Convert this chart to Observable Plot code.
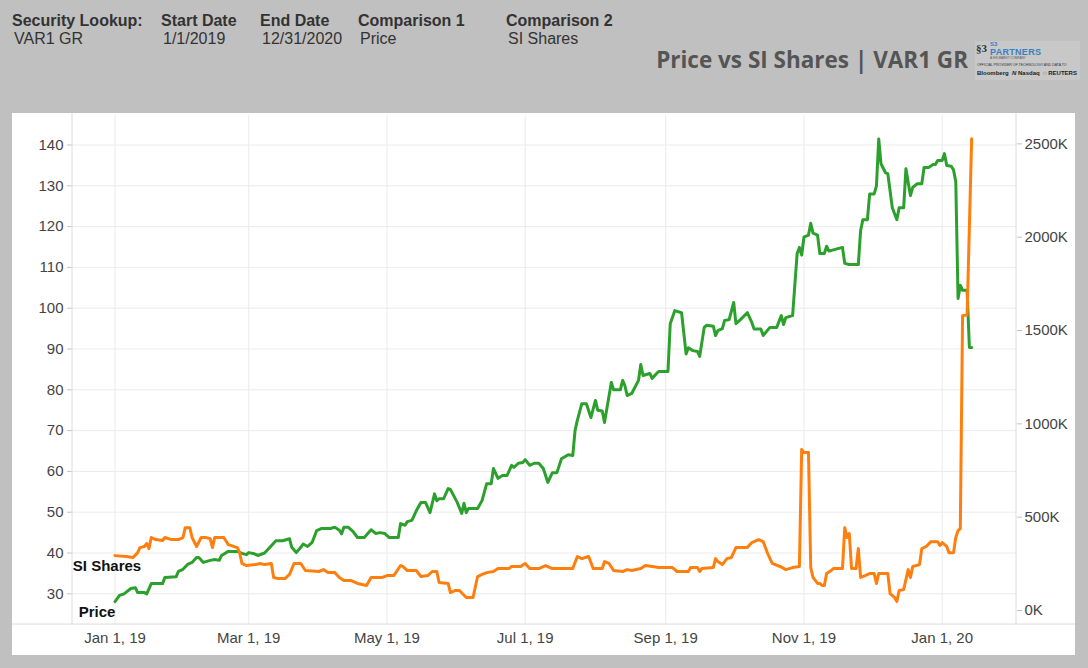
<!DOCTYPE html>
<html>
<head>
<meta charset="utf-8">
<script src="https://cdn.jsdelivr.net/npm/d3@7"></script>
<script src="https://cdn.jsdelivr.net/npm/@observablehq/plot@0.6"></script>
<style>
  html, body { margin: 0; padding: 0; }
  body { width: 1088px; height: 668px; background: #c0c0c0; position: relative; overflow: hidden;
         font-family: "Liberation Sans", Arial, sans-serif; color: #333; }
  .t { position: absolute; font-size: 16px; line-height: 18px; white-space: nowrap; }
  .b { font-weight: bold; }
  #title { position: absolute; right: 120px; top: 46px; font-family: "Open Sans", sans-serif; font-weight: 700;
           font-size: 22.5px; line-height: 28px; color: #555; white-space: nowrap; }
  #logo { position: absolute; left: 975px; top: 41px; width: 105px; height: 39px; background: #c8c8c8; }
  #logo div { position: absolute; white-space: nowrap; }
  #panel { position: absolute; left: 12px; top: 113px; }
</style>
</head>
<body>
<div class="t b" style="left:12px;top:12px">Security Lookup:</div>
<div class="t" style="left:14px;top:30px">VAR1 GR</div>
<div class="t b" style="left:161px;top:12px">Start Date</div>
<div class="t" style="left:163px;top:30px">1/1/2019</div>
<div class="t b" style="left:260px;top:12px">End Date</div>
<div class="t" style="left:262px;top:30px">12/31/2020</div>
<div class="t b" style="left:358px;top:12px">Comparison 1</div>
<div class="t" style="left:360px;top:30px">Price</div>
<div class="t b" style="left:506px;top:12px">Comparison 2</div>
<div class="t" style="left:508px;top:30px">SI Shares</div>
<div id="title">Price vs SI Shares | VAR1 GR</div>
<div id="logo">
  <div style="left:1px;top:1px;font:bold 11px 'Liberation Serif',serif;color:#333;line-height:12px">§3</div>
  <div style="left:15px;top:0px;font:bold 6px 'Liberation Sans';color:#3a7fc1;line-height:6px">S3</div>
  <div style="left:15px;top:7px;font:bold 9px 'Liberation Sans';color:#3a7fc1;line-height:8px;letter-spacing:0.3px">PARTNERS</div>
  <div style="left:15px;top:16px;font:3px 'Liberation Sans';color:#555;line-height:3px">A IHS MARKIT COMPANY</div>
  <div style="left:2px;top:22px;font:3.5px 'Liberation Sans';color:#333;line-height:4px">OFFICIAL PROVIDER OF TECHNOLOGY AND DATA TO</div>
  <div style="left:2px;top:29px;font:bold 6px 'Liberation Sans';color:#222;line-height:7px">Bloomberg &nbsp;<i>N</i> Nasdaq &nbsp;◌ REUTERS</div>
</div>
<div id="panel"></div>
<script>
// ---- data ----
const priceDates = ["2019-01-01","2019-01-03","2019-01-05","2019-01-08","2019-01-10","2019-01-11","2019-01-14","2019-01-15","2019-01-17","2019-01-22","2019-01-23","2019-01-28","2019-01-29","2019-01-31","2019-02-02","2019-02-04","2019-02-06","2019-02-07","2019-02-09","2019-02-12","2019-02-14","2019-02-16","2019-02-17","2019-02-20","2019-02-24","2019-02-26","2019-02-28","2019-03-01","2019-03-03","2019-03-05","2019-03-08","2019-03-11","2019-03-13","2019-03-16","2019-03-19","2019-03-20","2019-03-22","2019-03-24","2019-03-25","2019-03-27","2019-03-29","2019-03-31","2019-04-02","2019-04-06","2019-04-08","2019-04-10","2019-04-11","2019-04-12","2019-04-14","2019-04-16","2019-04-18","2019-04-21","2019-04-24","2019-04-26","2019-04-28","2019-04-30","2019-05-02","2019-05-06","2019-05-07","2019-05-09","2019-05-10","2019-05-12","2019-05-14","2019-05-16","2019-05-18","2019-05-20","2019-05-22","2019-05-23","2019-05-24","2019-05-26","2019-05-28","2019-05-29","2019-06-01","2019-06-03","2019-06-04","2019-06-05","2019-06-06","2019-06-10","2019-06-12","2019-06-14","2019-06-16","2019-06-17","2019-06-19","2019-06-21","2019-06-23","2019-06-25","2019-06-26","2019-06-28","2019-06-30","2019-07-01","2019-07-03","2019-07-05","2019-07-07","2019-07-09","2019-07-11","2019-07-13","2019-07-15","2019-07-17","2019-07-20","2019-07-22","2019-07-23","2019-07-24","2019-07-26","2019-07-28","2019-07-30","2019-08-01","2019-08-02","2019-08-04","2019-08-05","2019-08-08","2019-08-09","2019-08-12","2019-08-13","2019-08-14","2019-08-15","2019-08-17","2019-08-20","2019-08-21","2019-08-22","2019-08-25","2019-08-26","2019-08-28","2019-08-29","2019-09-02","2019-09-03","2019-09-05","2019-09-08","2019-09-10","2019-09-11","2019-09-13","2019-09-15","2019-09-16","2019-09-18","2019-09-19","2019-09-22","2019-09-23","2019-09-24","2019-09-26","2019-09-27","2019-09-29","2019-10-01","2019-10-02","2019-10-04","2019-10-07","2019-10-09","2019-10-10","2019-10-13","2019-10-14","2019-10-17","2019-10-20","2019-10-22","2019-10-23","2019-10-24","2019-10-27","2019-10-29","2019-10-30","2019-10-31","2019-11-01","2019-11-03","2019-11-04","2019-11-05","2019-11-07","2019-11-08","2019-11-10","2019-11-11","2019-11-12","2019-11-18","2019-11-19","2019-11-21","2019-11-25","2019-11-26","2019-11-27","2019-11-29","2019-11-30","2019-12-02","2019-12-03","2019-12-04","2019-12-05","2019-12-07","2019-12-08","2019-12-10","2019-12-12","2019-12-13","2019-12-15","2019-12-16","2019-12-17","2019-12-18","2019-12-19","2019-12-21","2019-12-23","2019-12-24","2019-12-26","2019-12-28","2019-12-29","2019-12-30","2020-01-01","2020-01-02","2020-01-03","2020-01-05","2020-01-06","2020-01-07","2020-01-08","2020-01-09","2020-01-10","2020-01-12","2020-01-13","2020-01-14"];
const priceValues = [28.1,29.6,30.0,31.3,31.5,30.3,30.3,30.0,32.5,32.5,34.0,34.2,35.5,36.0,37.2,37.7,38.9,38.9,37.7,38.2,38.4,38.2,39.4,40.4,40.4,39.9,39.6,40.1,39.9,39.4,40.0,41.8,43.0,43.0,43.5,41.4,40.1,41.4,42.2,41.6,42.6,45.5,46.0,46.0,46.3,45.6,44.7,46.3,46.3,45.3,43.8,43.8,45.7,44.8,45.0,44.8,43.8,43.8,47.2,46.8,47.7,48.0,50.4,52.4,52.4,49.9,54.5,52.8,53.3,53.3,55.8,55.6,52.4,49.7,52.2,49.9,50.9,50.9,52.9,57.0,57.0,60.7,58.3,59.0,59.0,61.5,61.0,62.0,62.2,62.9,61.5,62.0,62.0,60.7,57.3,59.7,59.7,63.1,64.1,63.9,70.0,72.5,76.6,76.6,73.2,77.4,75.0,74.8,72.0,81.8,80.0,80.0,82.3,81.0,78.6,79.1,82.3,86.2,83.5,84.0,82.8,84.0,84.5,84.5,96.2,99.4,98.9,88.8,90.3,89.6,89.4,88.2,95.3,95.8,95.6,93.3,94.5,95.0,97.0,97.2,101.4,96.2,97.2,98.9,96.5,94.9,94.9,93.3,95.3,95.3,98.2,96.0,97.7,98.2,113.4,114.9,113.0,117.4,117.9,120.8,118.4,117.9,113.4,113.4,115.2,114.0,114.9,111.0,110.7,110.7,119.0,121.7,121.7,128.0,128.0,130.0,141.5,135.4,133.2,133.0,124.6,121.7,124.6,124.6,134.2,130.8,127.6,129.6,130.5,130.5,134.5,134.5,135.2,135.2,136.2,136.2,137.9,135.0,134.8,133.9,131.0,102.4,105.6,104.4,104.4,90.4,90.4];

const siDates = ["2019-01-01","2019-01-06","2019-01-09","2019-01-11","2019-01-12","2019-01-14","2019-01-15","2019-01-16","2019-01-17","2019-01-19","2019-01-22","2019-01-23","2019-01-26","2019-01-29","2019-01-31","2019-02-01","2019-02-03","2019-02-04","2019-02-06","2019-02-08","2019-02-10","2019-02-12","2019-02-13","2019-02-14","2019-02-18","2019-02-20","2019-02-24","2019-02-25","2019-02-26","2019-02-28","2019-03-04","2019-03-06","2019-03-08","2019-03-11","2019-03-12","2019-03-14","2019-03-17","2019-03-19","2019-03-21","2019-03-24","2019-03-26","2019-04-01","2019-04-03","2019-04-05","2019-04-08","2019-04-10","2019-04-12","2019-04-15","2019-04-18","2019-04-22","2019-04-24","2019-04-29","2019-05-01","2019-05-04","2019-05-07","2019-05-08","2019-05-10","2019-05-14","2019-05-16","2019-05-19","2019-05-21","2019-05-23","2019-05-24","2019-05-28","2019-05-29","2019-05-31","2019-06-02","2019-06-05","2019-06-08","2019-06-10","2019-06-12","2019-06-14","2019-06-17","2019-06-19","2019-06-24","2019-06-25","2019-06-29","2019-07-01","2019-07-03","2019-07-07","2019-07-10","2019-07-13","2019-07-22","2019-07-24","2019-07-26","2019-07-29","2019-07-31","2019-08-04","2019-08-05","2019-08-07","2019-08-09","2019-08-13","2019-08-15","2019-08-17","2019-08-21","2019-08-23","2019-08-26","2019-08-29","2019-09-04","2019-09-06","2019-09-11","2019-09-12","2019-09-15","2019-09-16","2019-09-17","2019-09-22","2019-09-23","2019-09-24","2019-09-26","2019-09-28","2019-09-30","2019-10-02","2019-10-07","2019-10-09","2019-10-12","2019-10-14","2019-10-16","2019-10-18","2019-10-22","2019-10-24","2019-10-27","2019-10-30","2019-10-31","2019-11-01","2019-11-03","2019-11-04","2019-11-05","2019-11-07","2019-11-08","2019-11-09","2019-11-10","2019-11-11","2019-11-13","2019-11-14","2019-11-18","2019-11-19","2019-11-20","2019-11-21","2019-11-22","2019-11-24","2019-11-25","2019-11-26","2019-11-28","2019-11-30","2019-12-02","2019-12-03","2019-12-04","2019-12-08","2019-12-09","2019-12-11","2019-12-12","2019-12-13","2019-12-15","2019-12-17","2019-12-18","2019-12-19","2019-12-22","2019-12-23","2019-12-25","2019-12-27","2019-12-30","2019-12-31","2020-01-01","2020-01-03","2020-01-04","2020-01-06","2020-01-07","2020-01-08","2020-01-09","2020-01-10","2020-01-12","2020-01-14"];
const siValuesK = [294,289,284,310,337,343,359,332,391,380,375,391,380,380,391,444,444,391,343,391,391,385,337,391,391,353,337,310,252,241,246,252,246,252,177,171,171,193,252,252,214,209,219,203,203,177,161,161,145,134,177,177,187,187,241,236,214,214,182,187,209,209,150,145,96,107,107,70,70,182,193,203,209,225,225,236,236,252,225,225,241,225,225,289,278,289,225,225,262,252,214,209,219,214,225,241,236,230,230,209,209,230,230,209,225,230,278,262,246,278,284,337,337,364,380,369,305,252,233,219,230,236,862,846,846,230,177,145,145,134,134,198,214,225,225,444,391,412,225,225,332,177,187,198,198,145,198,198,91,70,48,107,112,219,177,236,246,332,343,369,369,348,364,343,310,310,391,428,439,1579,1584,2527];

const leftTicks = [30,40,50,60,70,80,90,100,110,120,130,140];
const rightTicksK = [0,500,1000,1500,2000,2500];
const xTickDates = ["2019-01-01","2019-03-01","2019-05-01","2019-07-01","2019-09-01","2019-11-01","2020-01-01"];

// ---- scales (dual axis: SI Shares mapped onto the price axis) ----
const yDomain = [22.48, 147.23];
const siDomain = [-75, 2652];
const toLeft = v => yDomain[0] + (v - siDomain[0]) / (siDomain[1] - siDomain[0]) * (yDomain[1] - yDomain[0]);
const fromLeft = y => siDomain[0] + (y - yDomain[0]) / (yDomain[1] - yDomain[0]) * (siDomain[1] - siDomain[0]);
const xDomain = [new Date("2018-12-13T06:00Z"), new Date("2020-02-02T19:00Z")];

const price = priceDates.map((d, i) => ({date: new Date(d), v: priceValues[i]}));
const si = siDates.map((d, i) => ({date: new Date(d), v: toLeft(siValuesK[i])}));
const xTicks = xTickDates.map(d => new Date(d));

const W = 1063, H = 542;
const chart = Plot.plot({
  width: W, height: H,
  marginLeft: 60, marginRight: 59, marginTop: 2, marginBottom: 31,
  style: {background: "white", fontFamily: "'Liberation Sans', Arial, sans-serif", fontSize: "15px", overflow: "visible"},
  x: {type: "utc", domain: xDomain},
  y: {domain: yDomain},
  marks: [
    Plot.gridY(leftTicks, {stroke: "#ebebeb", strokeOpacity: 1}),
    Plot.gridX(xTicks, {stroke: "#ebebeb", strokeOpacity: 1}),
    Plot.axisY(leftTicks, {anchor: "left", tickSize: 5, tickPadding: 4, stroke: "#c4c4c4", fill: "#444", label: null}),
    Plot.axisY(rightTicksK.map(toLeft), {anchor: "right", tickSize: 5, tickPadding: 3, stroke: "#c4c4c4", fill: "#444",
      tickFormat: d => Math.round(fromLeft(d)) + "K", label: null}),
    Plot.axisX(xTicks, {tickSize: 0, tickPadding: 8, fill: "#444", tickFormat: d3.utcFormat("%b %-d, %y"), label: null}),
    Plot.line(price, {x: "date", y: "v", stroke: "#2ca02c", strokeWidth: 3}),
    Plot.line(si, {x: "date", y: "v", stroke: "#ff7f0e", strokeWidth: 3}),
    Plot.text([{...si[0], label: "SI Shares"}], {x: "date", y: "v", text: "label", dx: -8, dy: 11,
      fontWeight: "bold", fill: "#111", fontSize: 15}),
    Plot.text([{...price[0], label: "Price"}], {x: "date", y: "v", text: "label", dx: -18, dy: 11,
      fontWeight: "bold", fill: "#111", fontSize: 15})
  ]
});

// panel frame lines (axis lines and x-axis band separator)
const svg = d3.select(chart);
svg.append("line").attr("x1", 60).attr("x2", 60).attr("y1", 0).attr("y2", H - 31).attr("stroke", "#dcdcdc");
svg.append("line").attr("x1", W - 59).attr("x2", W - 59).attr("y1", 0).attr("y2", H - 31).attr("stroke", "#dcdcdc");
svg.append("line").attr("x1", 0).attr("x2", W).attr("y1", H - 31).attr("y2", H - 31).attr("stroke", "#dcdcdc");
document.getElementById("panel").appendChild(chart);
</script>
</body>
</html>
